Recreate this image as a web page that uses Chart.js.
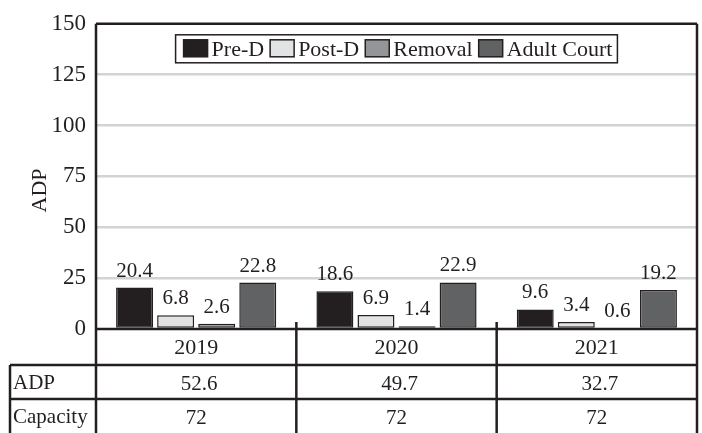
<!DOCTYPE html>
<html>
<head>
<meta charset="utf-8">
<script src="https://cdn.jsdelivr.net/npm/chart.js@4.4.0/dist/chart.umd.min.js"></script>
<style>
    html, body { margin: 0; padding: 0; background: #fff; }
</style>
</head>
<body>
<canvas id="adpChart" width="702" height="433"></canvas>
<script>
const years = ['2019', '2020', '2021'];
const preD = [20.4, 18.6, 9.6];
const postD = [6.8, 6.9, 3.4];
const removal = [2.6, 1.4, 0.6];
const adultCourt = [22.8, 22.9, 19.2];
const tableRows = ['ADP', 'Capacity'];
const adpTotals = ['52.6', '49.7', '32.7'];
const capacity = ['72', '72', '72'];
const yMax = 150;
const yStep = 25;

const INK = '#231f20';
const SERIF = '"Liberation Serif", "DejaVu Serif", serif';

function bar(label, data, color) {
    return {
        label: label,
        data: data,
        backgroundColor: color,
        borderColor: INK,
        borderWidth: 1.5,
        borderSkipped: false,
        categoryPercentage: 0.82,
        barPercentage: 0.9
    };
}

// value labels over each bar
const barLabels = {
    id: 'barLabels',
    afterDatasetsDraw(chart) {
        const ctx = chart.ctx;
        ctx.save();
        ctx.font = '21px ' + SERIF;
        ctx.fillStyle = INK;
        ctx.textAlign = 'center';
        ctx.textBaseline = 'bottom';
        chart.data.datasets.forEach((ds, di) => {
            chart.getDatasetMeta(di).data.forEach((el, i) => {
                ctx.fillText(ds.data[i].toFixed(1), el.x, el.y - 6);
            });
        });
        ctx.restore();
    }
};

// frame, legend box, axis title and the table under the plot
const frameAndTable = {
    id: 'frameAndTable',
    afterDraw(chart) {
        const ctx = chart.ctx;
        const area = chart.chartArea;
        const xs = chart.scales.x;
        const centers = years.map((_, i) => xs.getPixelForValue(i));
        const bounds = [area.left];
        for (let i = 0; i < centers.length - 1; i++) bounds.push((centers[i] + centers[i + 1]) / 2);
        bounds.push(area.right);

        const r0 = area.bottom;
        const r1 = r0 + 36;
        const r2 = r1 + 34;
        const r3 = r2 + 34;
        const tableLeft = 10;

        ctx.save();
        ctx.strokeStyle = INK;
        ctx.lineWidth = 2.5;
        ctx.beginPath();
        // plot frame
        ctx.moveTo(area.left, area.top); ctx.lineTo(area.right, area.top);
        ctx.moveTo(area.left, r0); ctx.lineTo(area.right, r0);
        ctx.moveTo(area.left, area.top); ctx.lineTo(area.left, r3);
        ctx.moveTo(area.right, area.top); ctx.lineTo(area.right, r3);
        // table rules
        ctx.moveTo(tableLeft, r1); ctx.lineTo(area.right, r1);
        ctx.moveTo(tableLeft, r2); ctx.lineTo(area.right, r2);
        ctx.moveTo(tableLeft, r1); ctx.lineTo(tableLeft, r3);
        for (let i = 1; i < bounds.length - 1; i++) {
            ctx.moveTo(bounds[i], r0 - 7); ctx.lineTo(bounds[i], r3);
        }
        ctx.stroke();

        ctx.fillStyle = INK;
        ctx.textBaseline = 'middle';
        ctx.textAlign = 'center';
        ctx.font = '22px ' + SERIF;
        years.forEach((y, i) => ctx.fillText(y, centers[i], (r0 + r1) / 2 + 1));
        ctx.font = '21px ' + SERIF;
        adpTotals.forEach((v, i) => ctx.fillText(v, centers[i] + 3, (r1 + r2) / 2 + 2));
        capacity.forEach((v, i) => ctx.fillText(v, centers[i], (r2 + r3) / 2 + 2));
        ctx.textAlign = 'left';
        ctx.fillText(tableRows[0], tableLeft + 3, (r1 + r2) / 2 + 1);
        ctx.fillText(tableRows[1], tableLeft + 3, (r2 + r3) / 2 + 1);

        // y axis title
        ctx.save();
        ctx.translate(40, (area.top + area.bottom) / 2 + 14);
        ctx.rotate(-Math.PI / 2);
        ctx.textAlign = 'center';
        ctx.font = '22px ' + SERIF;
        ctx.fillText('ADP', 0, 0);
        ctx.restore();

        // legend inside the plot
        ctx.font = '22px ' + SERIF;
        const sw = 24, sh = 17, gapText = 4, gapItem = 6, padL = 8, padR = 5;
        const items = chart.data.datasets.map(ds => ({
            label: ds.label, color: ds.backgroundColor, w: ctx.measureText(ds.label).width
        }));
        let total = padL + padR;
        items.forEach((it, i) => { total += sw + gapText + it.w + (i < items.length - 1 ? gapItem : 0); });
        const boxLeft = (area.left + area.right) / 2 - total / 2;
        const boxTop = area.top + 11;
        const boxH = 28;
        ctx.fillStyle = '#fff';
        ctx.fillRect(boxLeft, boxTop, total, boxH);
        ctx.lineWidth = 1.5;
        ctx.strokeRect(boxLeft, boxTop, total, boxH);
        let x = boxLeft + padL;
        items.forEach(it => {
            ctx.fillStyle = it.color;
            ctx.fillRect(x, boxTop + 5, sw, sh);
            ctx.strokeRect(x, boxTop + 5, sw, sh);
            ctx.fillStyle = INK;
            ctx.textAlign = 'left';
            ctx.fillText(it.label, x + sw + gapText, boxTop + boxH / 2 + 1);
            x += sw + gapText + it.w + gapItem;
        });
        ctx.restore();
    }
};

new Chart(document.getElementById('adpChart'), {
    type: 'bar',
    data: {
        labels: years,
        datasets: [
            bar('Pre-D', preD, '#231f20'),
            bar('Post-D', postD, '#e2e3e4'),
            bar('Removal', removal, '#939598'),
            bar('Adult Court', adultCourt, '#616264')
        ]
    },
    options: {
        responsive: false,
        animation: false,
        layout: { padding: { top: 13, right: 5, bottom: 104, left: 0 } },
        plugins: {
            legend: { display: false },
            tooltip: { enabled: false }
        },
        scales: {
            x: { display: false },
            y: {
                min: 0,
                max: yMax,
                afterFit: (scale) => { scale.width = 96; },
                ticks: {
                    stepSize: yStep,
                    padding: 10,
                    color: INK,
                    font: { family: SERIF, size: 23 }
                },
                grid: {
                    drawTicks: false,
                    lineWidth: 2.5,
                    color: (c) => (c.tick.value === 0 || c.tick.value === yMax) ? 'rgba(0,0,0,0)' : '#d1d3d4'
                },
                border: { display: false }
            }
        }
    },
    plugins: [barLabels, frameAndTable]
});
</script>
</body>
</html>
